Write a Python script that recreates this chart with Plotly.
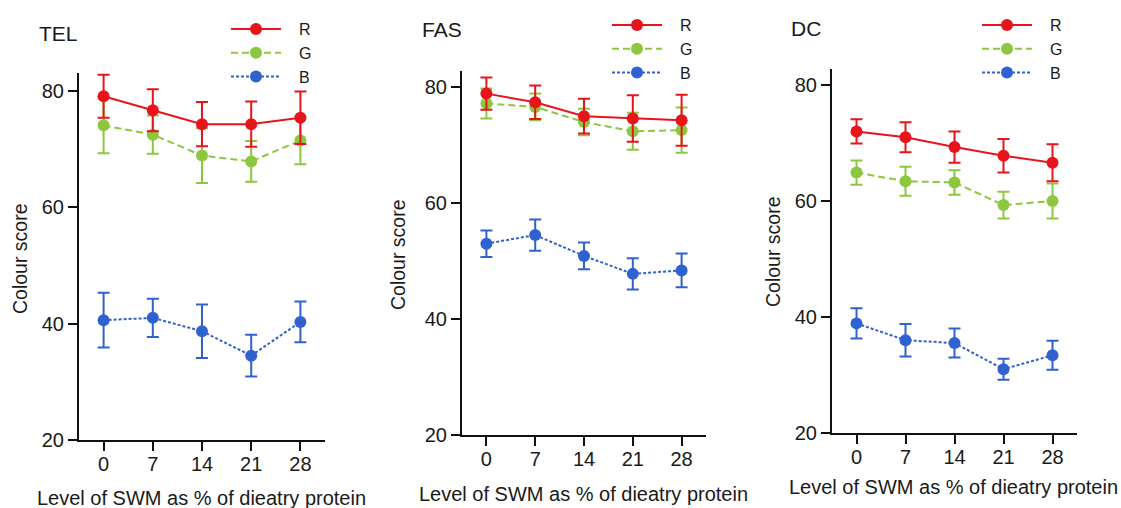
import plotly.graph_objects as go

levels = [0, 7, 14, 21, 28]
tick_labels = ["0", "7", "14", "21", "28"]
y_ticks = [20, 40, 60, 80]

# TEL
tel_R = [79.1, 76.7, 74.3, 74.3, 75.4]
tel_R_err = [3.7, 3.6, 3.8, 3.9, 4.5]
tel_G = [74.1, 72.5, 68.9, 67.9, 71.5]
tel_G_err = [4.8, 3.3, 4.7, 3.5, 4.1]
tel_B = [40.6, 41.0, 38.7, 34.5, 40.3]
tel_B_err = [4.7, 3.3, 4.6, 3.6, 3.5]

# FAS
fas_R = [78.9, 77.4, 75.0, 74.6, 74.3]
fas_R_err = [2.8, 2.9, 3.0, 4.0, 4.4]
fas_G = [77.2, 76.6, 74.0, 72.4, 72.6]
fas_G_err = [2.6, 2.3, 2.3, 3.2, 3.9]
fas_B = [53.0, 54.5, 50.9, 47.8, 48.4]
fas_B_err = [2.3, 2.7, 2.3, 2.7, 2.9]

# DC
dc_R = [72.0, 71.0, 69.3, 67.8, 66.6]
dc_R_err = [2.1, 2.6, 2.7, 2.9, 3.2]
dc_G = [64.9, 63.4, 63.2, 59.3, 60.0]
dc_G_err = [2.1, 2.5, 2.1, 2.3, 3.0]
dc_B = [38.9, 36.0, 35.5, 31.0, 33.4]
dc_B_err = [2.6, 2.8, 2.5, 1.8, 2.5]

panel_titles = ["TEL", "FAS", "DC"]
series_names = ["R", "G", "B"]
x_title = "Level of SWM as % of dieatry protein"
y_title = "Colour score"

W, H = 1121, 508
FONT = "Liberation Sans, Arial, sans-serif"
TXT = "#1a1a1a"
COLORS = {"R": "#e8141c", "G": "#8dc63f", "B": "#2f62cf"}
DASHES = {"R": "solid", "G": "7px,4px", "B": "3px,2px"}
PAD = "\u00a0\u00a0\u2005"  # gap between legend symbol and label

panels = [
    dict(R=tel_R, Re=tel_R_err, G=tel_G, Ge=tel_G_err, B=tel_B, Be=tel_B_err,
         xd=(79, 325), yd=(440, 73), ytop=83.1,
         title=(58, 33), ytitle=(20, 259), xtitle=(201, 498), leg=(226, 12)),
    dict(R=fas_R, Re=fas_R_err, G=fas_G, Ge=fas_G_err, B=fas_B, Be=fas_B_err,
         xd=(462, 706), yd=(435, 71), ytop=82.8,
         title=(442, 29), ytitle=(398, 255), xtitle=(583, 494), leg=(607, 8)),
    dict(R=dc_R, Re=dc_R_err, G=dc_G, Ge=dc_G_err, B=dc_B, Be=dc_B_err,
         xd=(832, 1077), yd=(433, 69), ytop=82.76,
         title=(806, 28), ytitle=(773, 252), xtitle=(953, 487), leg=(977, 8)),
]

fig = go.Figure()
layout = dict(width=W, height=H, margin=dict(l=0, r=0, t=0, b=0, autoexpand=False),
              paper_bgcolor="white", plot_bgcolor="white",
              font=dict(family=FONT, color=TXT, size=18), showlegend=True)
annotations = []

for i, p in enumerate(panels):
    n = "" if i == 0 else str(i + 1)
    xa, ya = "x" + n, "y" + n
    legname = "legend" + n
    for name in reversed(series_names):  # draw B first, R on top
        col = COLORS[name]
        fig.add_trace(go.Scatter(
            x=levels, y=p[name], name=PAD + name, xaxis=xa, yaxis=ya, legend=legname,
            mode="lines+markers",
            line=dict(color=col, width=2, dash=DASHES[name]),
            marker=dict(color=col, size=12, line=dict(width=0)),
            error_y=dict(type="data", array=p[name + "e"], visible=True,
                         color=col, thickness=2, width=6),
        ))
    x0, x1 = p["xd"]
    yb, yt = p["yd"]
    layout["xaxis" + n] = dict(
        domain=[x0 / W, x1 / W], range=[-3.5, 31.5], anchor=ya, automargin=False,
        tickmode="array", tickvals=levels, ticktext=tick_labels,
        showline=True, linecolor="#111", linewidth=2, ticks="outside",
        ticklen=9, tickwidth=2, tickcolor="#111", showgrid=False, zeroline=False,
        ticklabelstandoff=-4,
        tickfont=dict(size=20, family=FONT, color=TXT), fixedrange=True)
    layout["yaxis" + n] = dict(
        domain=[1 - yb / H, 1 - yt / H], range=[20, p["ytop"]], anchor=xa, automargin=False,
        tickmode="array", tickvals=y_ticks,
        showline=True, linecolor="#111", linewidth=2, ticks="outside",
        ticklen=9, tickwidth=2, tickcolor="#111", showgrid=False, zeroline=False,
        tickfont=dict(size=20, family=FONT, color=TXT), fixedrange=True)
    layout[legname] = dict(
        x=p["leg"][0] / W, y=1 - p["leg"][1] / H, xanchor="left", yanchor="top",
        traceorder="reversed", bgcolor="rgba(0,0,0,0)", borderwidth=0,
        itemwidth=50,
        font=dict(size=16, family=FONT, color=TXT), tracegroupgap=0)
    annotations.append(dict(text=panel_titles[i], x=p["title"][0] / W, y=1 - p["title"][1] / H,
                            xref="paper", yref="paper", showarrow=False,
                            xanchor="center", yanchor="middle",
                            font=dict(size=21, family=FONT, color=TXT)))
    annotations.append(dict(text=y_title, x=p["ytitle"][0] / W, y=1 - p["ytitle"][1] / H,
                            xref="paper", yref="paper", showarrow=False, textangle=-90,
                            xanchor="center", yanchor="middle",
                            font=dict(size=19.5, family=FONT, color=TXT)))
    annotations.append(dict(text=x_title, x=p["xtitle"][0] / W, y=1 - p["xtitle"][1] / H,
                            xref="paper", yref="paper", showarrow=False,
                            xanchor="center", yanchor="middle",
                            font=dict(size=20, family=FONT, color=TXT)))

layout["annotations"] = annotations
fig.update_layout(**layout)
fig.write_html("out.html")
